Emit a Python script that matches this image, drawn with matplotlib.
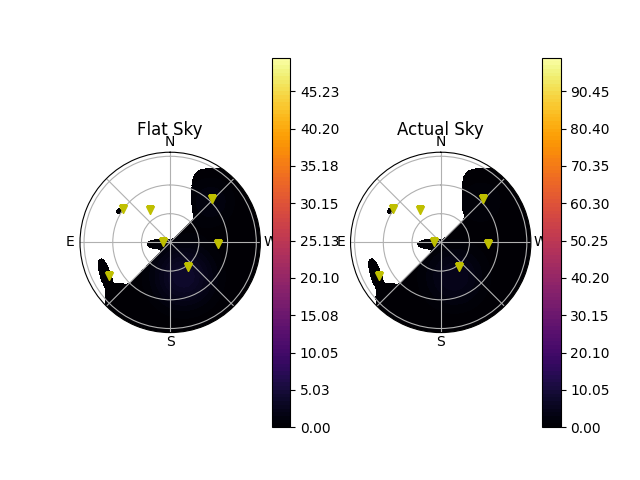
import numpy as np
import matplotlib
matplotlib.use('Agg')
import matplotlib.pyplot as plt

# marker (source) positions: azimuth from N (deg, towards E), zenith (rad)
src_az = [55.0, 32.5, 90.0, 316.0, 268.0, 216.0, 118.5]
src_zen = [1.005, 0.665, 0.125, 1.055, 0.825, 0.540, 1.215]

# colour scale tops
flat_vmax = 49.75
actual_vmax = 99.5

# shapes of the covered (non-masked) part of the sky, in units of the horizon radius
# (x to the right / W, y up / N): centre x, centre y, semi-axis a, semi-axis b, tilt deg, power
blob_cx = [0.52, -0.10, -0.715, -0.56, -0.565]
blob_cy = [0.52, -0.02, -0.37, -0.62, 0.345]
blob_a = [0.28, 0.155, 0.20, 0.16, 0.028]
blob_b = [0.30, 0.055, 0.06, 0.165, 0.028]
blob_tilt = [0.0, 0.0, 108.0, 0.0, 0.0]
blob_pow = [4, 2, 2, 2, 2]

# faint glow of the sky brightness
glow_x = [0.15, 0.45]
glow_y = [-0.38, 0.45]
glow_w = [0.32, 0.25]
glow_flat = [4.0, 1.5]
glow_actual = [5.0, 2.0]


def smin(a, b, k=0.05):
    h = np.clip(0.5 + 0.5 * (b - a) / k, 0, 1)
    return b * (1 - h) + a * h - k * h * (1 - h)


theta = np.linspace(0, 2 * np.pi, 721)
r = np.linspace(0, np.pi / 2, 240)
T, R = np.meshgrid(theta, r)
X = -R / (np.pi / 2) * np.sin(T)
Y = R / (np.pi / 2) * np.cos(T)

d = (Y - X) / np.sqrt(2)
for cx, cy, a, b, tilt, p in zip(blob_cx, blob_cy, blob_a, blob_b, blob_tilt, blob_pow):
    c, s = np.cos(np.radians(tilt)), np.sin(np.radians(tilt))
    u = (X - cx) * c + (Y - cy) * s
    v = -(X - cx) * s + (Y - cy) * c
    de = ((np.abs(u / a) ** p + np.abs(v / b) ** p) ** (1.0 / p) - 1) * min(a, b)
    d = smin(d, de)
mask = d > 0


def field(amps):
    z = np.zeros_like(X)
    for gx, gy, gw, ga in zip(glow_x, glow_y, glow_w, amps):
        z += ga * np.exp(-((X - gx) ** 2 + (Y - gy) ** 2) / gw ** 2)
    return np.ma.masked_array(z, mask=mask)


fig, axes = plt.subplots(1, 2, subplot_kw={'projection': 'polar'}, figsize=(6.4, 4.8), dpi=100)

for ax, title, vmax, amps in zip(axes, ['Flat Sky', 'Actual Sky'],
                                 [flat_vmax, actual_vmax], [glow_flat, glow_actual]):
    ax.set_theta_zero_location('N')
    levels = np.linspace(0, vmax, 100)
    cs = ax.contourf(T, R, field(amps), levels=levels, cmap='inferno')
    ax.plot(np.radians(src_az), src_zen, 'yv')
    ax.set_ylim(0, np.pi / 2)
    ax.set_yticks([0.5, 1.0, 1.5])
    ax.set_yticklabels([])
    ax.set_xticks(np.radians(np.arange(0, 360, 45)))
    ax.set_xticklabels(['N', '', 'E', '', 'S', '', 'W', ''])
    ax.tick_params(axis='x', pad=-3.5)
    ax.grid(True)
    ax.set_title(title, y=1.05)
    fig.colorbar(cs, ax=ax)

fig.savefig('out.png')
